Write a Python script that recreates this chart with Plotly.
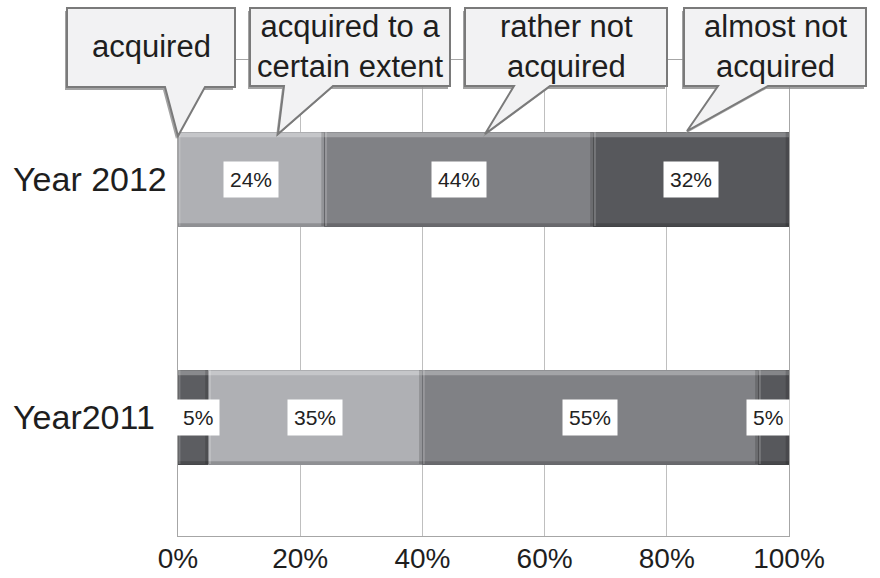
import plotly.graph_objects as go

# Survey results: share of respondents per answer, by year
years = ["Year2011", "Year 2012"]
series_names = ["acquired", "acquired to a certain extent", "rather not acquired", "almost not acquired"]
values = {
    "acquired": [5, 0],
    "acquired to a certain extent": [35, 24],
    "rather not acquired": [55, 44],
    "almost not acquired": [5, 32],
}
callout_texts = ["acquired", "acquired to a<br>certain extent", "rather not<br>acquired", "almost not<br>acquired"]
x_ticks = [0, 20, 40, 60, 80, 100]
x_tick_labels = ["0%", "20%", "40%", "60%", "80%", "100%"]

colors = {
    "acquired": "#5c5d61",
    "acquired to a certain extent": "#afb0b4",
    "rather not acquired": "#808185",
    "almost not acquired": "#57585c",
}
edge_colors = {
    "acquired": "#46474a",
    "acquired to a certain extent": "#8e8f93",
    "rather not acquired": "#66676b",
    "almost not acquired": "#424346",
}

FONT = "Liberation Sans, Arial, sans-serif"
W, H = 880, 578
ML, MR, MT, MB = 178, 91, 60, 42
PW, PH = W - ML - MR, H - MT - MB
BARGAP = 0.605
HALF = (1 - BARGAP) / 2

fig = go.Figure()
for name in series_names:
    fig.add_trace(go.Bar(
        y=years, x=values[name], name=name, orientation="h",
        marker=dict(color=colors[name], line=dict(color=edge_colors[name], width=1)),
        hoverinfo="x+name",
    ))

shapes = []
annotations = []

# bevel highlights and value labels for each segment
for yi, year in enumerate(years):
    start = 0
    for name in series_names:
        v = values[name][yi]
        if v > 0:
            x0, x1 = start, start + v
            shapes.append(dict(type="rect", xref="x", yref="y", layer="above",
                               x0=x0, x1=x1, y0=yi + HALF - 0.022, y1=yi + HALF,
                               fillcolor="rgba(255,255,255,0.28)", line=dict(width=0)))
            shapes.append(dict(type="rect", xref="x", yref="y", layer="above",
                               x0=x0, x1=x1, y0=yi - HALF, y1=yi - HALF + 0.012,
                               fillcolor="rgba(0,0,0,0.18)", line=dict(width=0)))
            shapes.append(dict(type="rect", xref="x", yref="y", layer="above",
                               x0=max(x0, x1 - 0.55), x1=x1, y0=yi - HALF, y1=yi + HALF,
                               fillcolor="rgba(0,0,0,0.16)", line=dict(width=0)))
            shapes.append(dict(type="rect", xref="x", yref="y", layer="above",
                               x0=x0, x1=min(x1, x0 + 0.4), y0=yi - HALF, y1=yi + HALF,
                               fillcolor="rgba(255,255,255,0.18)", line=dict(width=0)))
            mid = start + v / 2
            shift = 5 if mid < 3 else (-6 if mid > 97 else 0)
            annotations.append(dict(
                x=mid, y=year, xref="x", yref="y", text=f"{v}%", showarrow=False,
                xshift=shift, bgcolor="white", borderpad=6,
                font=dict(family=FONT, size=21, color="#222222"),
            ))
        start += v

# category labels, left aligned
for year in years:
    annotations.append(dict(
        x=(11 - ML) / PW, xref="paper", y=year, yref="y", xanchor="left",
        text=year, showarrow=False,
        font=dict(family=FONT, size=34, color="#1e1e1e"),
    ))


def px(xp):
    return (xp - ML) / PW


def py(yp):
    return 1 - (yp - MT) / PH


# speech-bubble callouts naming each answer (pixel geometry of the boxes)
boxes = [
    (67, 235, 8, 87, 165, 205, 178, 136),
    (250, 450, 8, 86, 284, 333, 278, 134),
    (465, 667, 8, 86, 514, 550, 485, 134),
    (684, 866, 8, 86, 718, 768, 687, 131),
]


def bubble_path(l, r, t, b, bl, br, tx, ty, dx=0, dy=0):
    pts = [(l, t), (r, t), (r, b), (br, b), (tx, ty), (bl, b), (l, b)]
    return "M " + " L ".join(f"{px(a + dx):.5f},{py(c + dy):.5f}" for a, c in pts) + " Z"


for (l, r, t, b, bl, br, tx, ty), txt in zip(boxes, callout_texts):
    shapes.append(dict(type="path", xref="paper", yref="paper", layer="above",
                       path=bubble_path(l, r, t, b, bl, br, tx, ty, -2, 3),
                       fillcolor="#8c8c8c", line=dict(width=0), opacity=0.8))
    shapes.append(dict(type="path", xref="paper", yref="paper", layer="above",
                       path=bubble_path(l, r, t, b, bl, br, tx, ty),
                       fillcolor="#f2f2f3", line=dict(color="#7a7a7a", width=2)))
    annotations.append(dict(
        x=px((l + r) / 2), y=py((t + b) / 2 - 1), xref="paper", yref="paper",
        text=txt, showarrow=False, xanchor="center", yanchor="middle",
        font=dict(family=FONT, size=31, color="#1e1e1e"),
    ))

fig.update_layout(
    width=W, height=H,
    margin=dict(l=ML, r=MR, t=MT, b=MB, pad=0),
    barmode="stack", bargap=BARGAP,
    showlegend=False,
    plot_bgcolor="white", paper_bgcolor="white",
    shapes=shapes, annotations=annotations,
    xaxis=dict(
        range=[0, 100], tickvals=x_ticks, ticktext=x_tick_labels,
        showgrid=True, gridcolor="#bfbfbf", gridwidth=1,
        showline=True, linecolor="#a6a6a6", linewidth=1, mirror=True,
        ticks="", zeroline=False, fixedrange=True, automargin=False,
        ticklabelstandoff=-3,
        tickfont=dict(family=FONT, size=28, color="#1e1e1e"),
    ),
    yaxis=dict(
        categoryorder="array", categoryarray=years,
        showticklabels=False, showgrid=False,
        showline=True, linecolor="#a6a6a6", linewidth=1, mirror=True,
        ticks="", zeroline=False, fixedrange=True, automargin=False,
    ),
)

fig.write_html("out.html")
